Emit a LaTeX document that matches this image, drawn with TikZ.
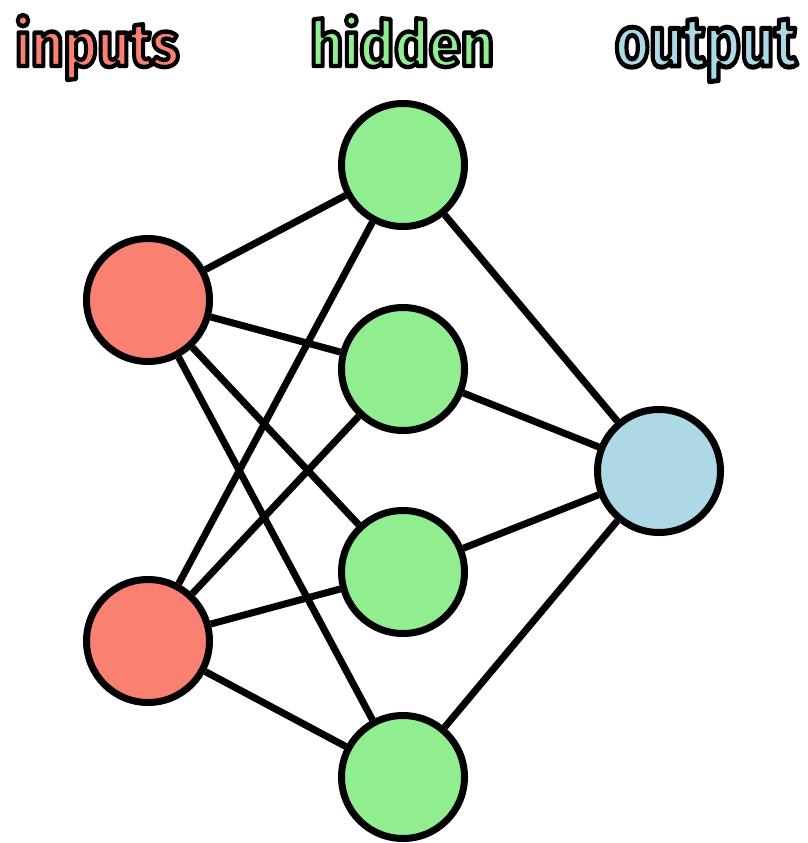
\documentclass[tikz,border=0pt]{standalone}
\usepackage{fontspec}
\setmainfont{Fira Sans}
\definecolor{insalmon}{HTML}{FA8072}
\definecolor{hidgreen}{HTML}{90EE90}
\definecolor{outblue}{HTML}{ADD8E6}
\newcommand{\outlined}[2]{\textcolor{#1}{\special{pdf:code 2 Tr 4.5 w 1 j 0 0 0 RG}#2\special{pdf:code 0 Tr 1 w}}}
\tikzset{
  neuron/.style={circle, draw=black, line width=7pt, minimum size=123pt, inner sep=0pt},
  conn/.style={line width=7pt, draw=black},
  lbl/.style={anchor=base, inner sep=0pt, font=\fontsize{64}{64}\selectfont\bfseries}
}
\begin{document}
\begin{tikzpicture}[x=1pt,y=-1pt]
\useasboundingbox (0,0) rectangle (808,843);
\node[neuron, fill=insalmon] (i1) at (148,300) {};
\node[neuron, fill=insalmon] (i2) at (148,641) {};
\node[neuron, fill=hidgreen] (h1) at (403,165) {};
\node[neuron, fill=hidgreen] (h2) at (403,369) {};
\node[neuron, fill=hidgreen] (h3) at (403,572) {};
\node[neuron, fill=hidgreen] (h4) at (403,777) {};
\node[neuron, fill=outblue] (o) at (659,471) {};
\foreach \a in {i1,i2}{
  \foreach \b in {h1,h2,h3,h4}{
    \draw[conn] (\a) -- (\b);
  }
}
\foreach \b in {h1,h2,h3,h4}{
  \draw[conn] (\b) -- (o);
}
\node[lbl] (t1) at (97,66) {\resizebox{164pt}{51pt}{\outlined{insalmon}{inputs}}};
\node[lbl] (t2) at (402,66) {\resizebox{184pt}{51pt}{\outlined{hidgreen}{hidden}}};
\node[lbl] (t3) at (706,66) {\resizebox{182pt}{47pt}{\outlined{outblue}{output}}};
\end{tikzpicture}
\end{document}
